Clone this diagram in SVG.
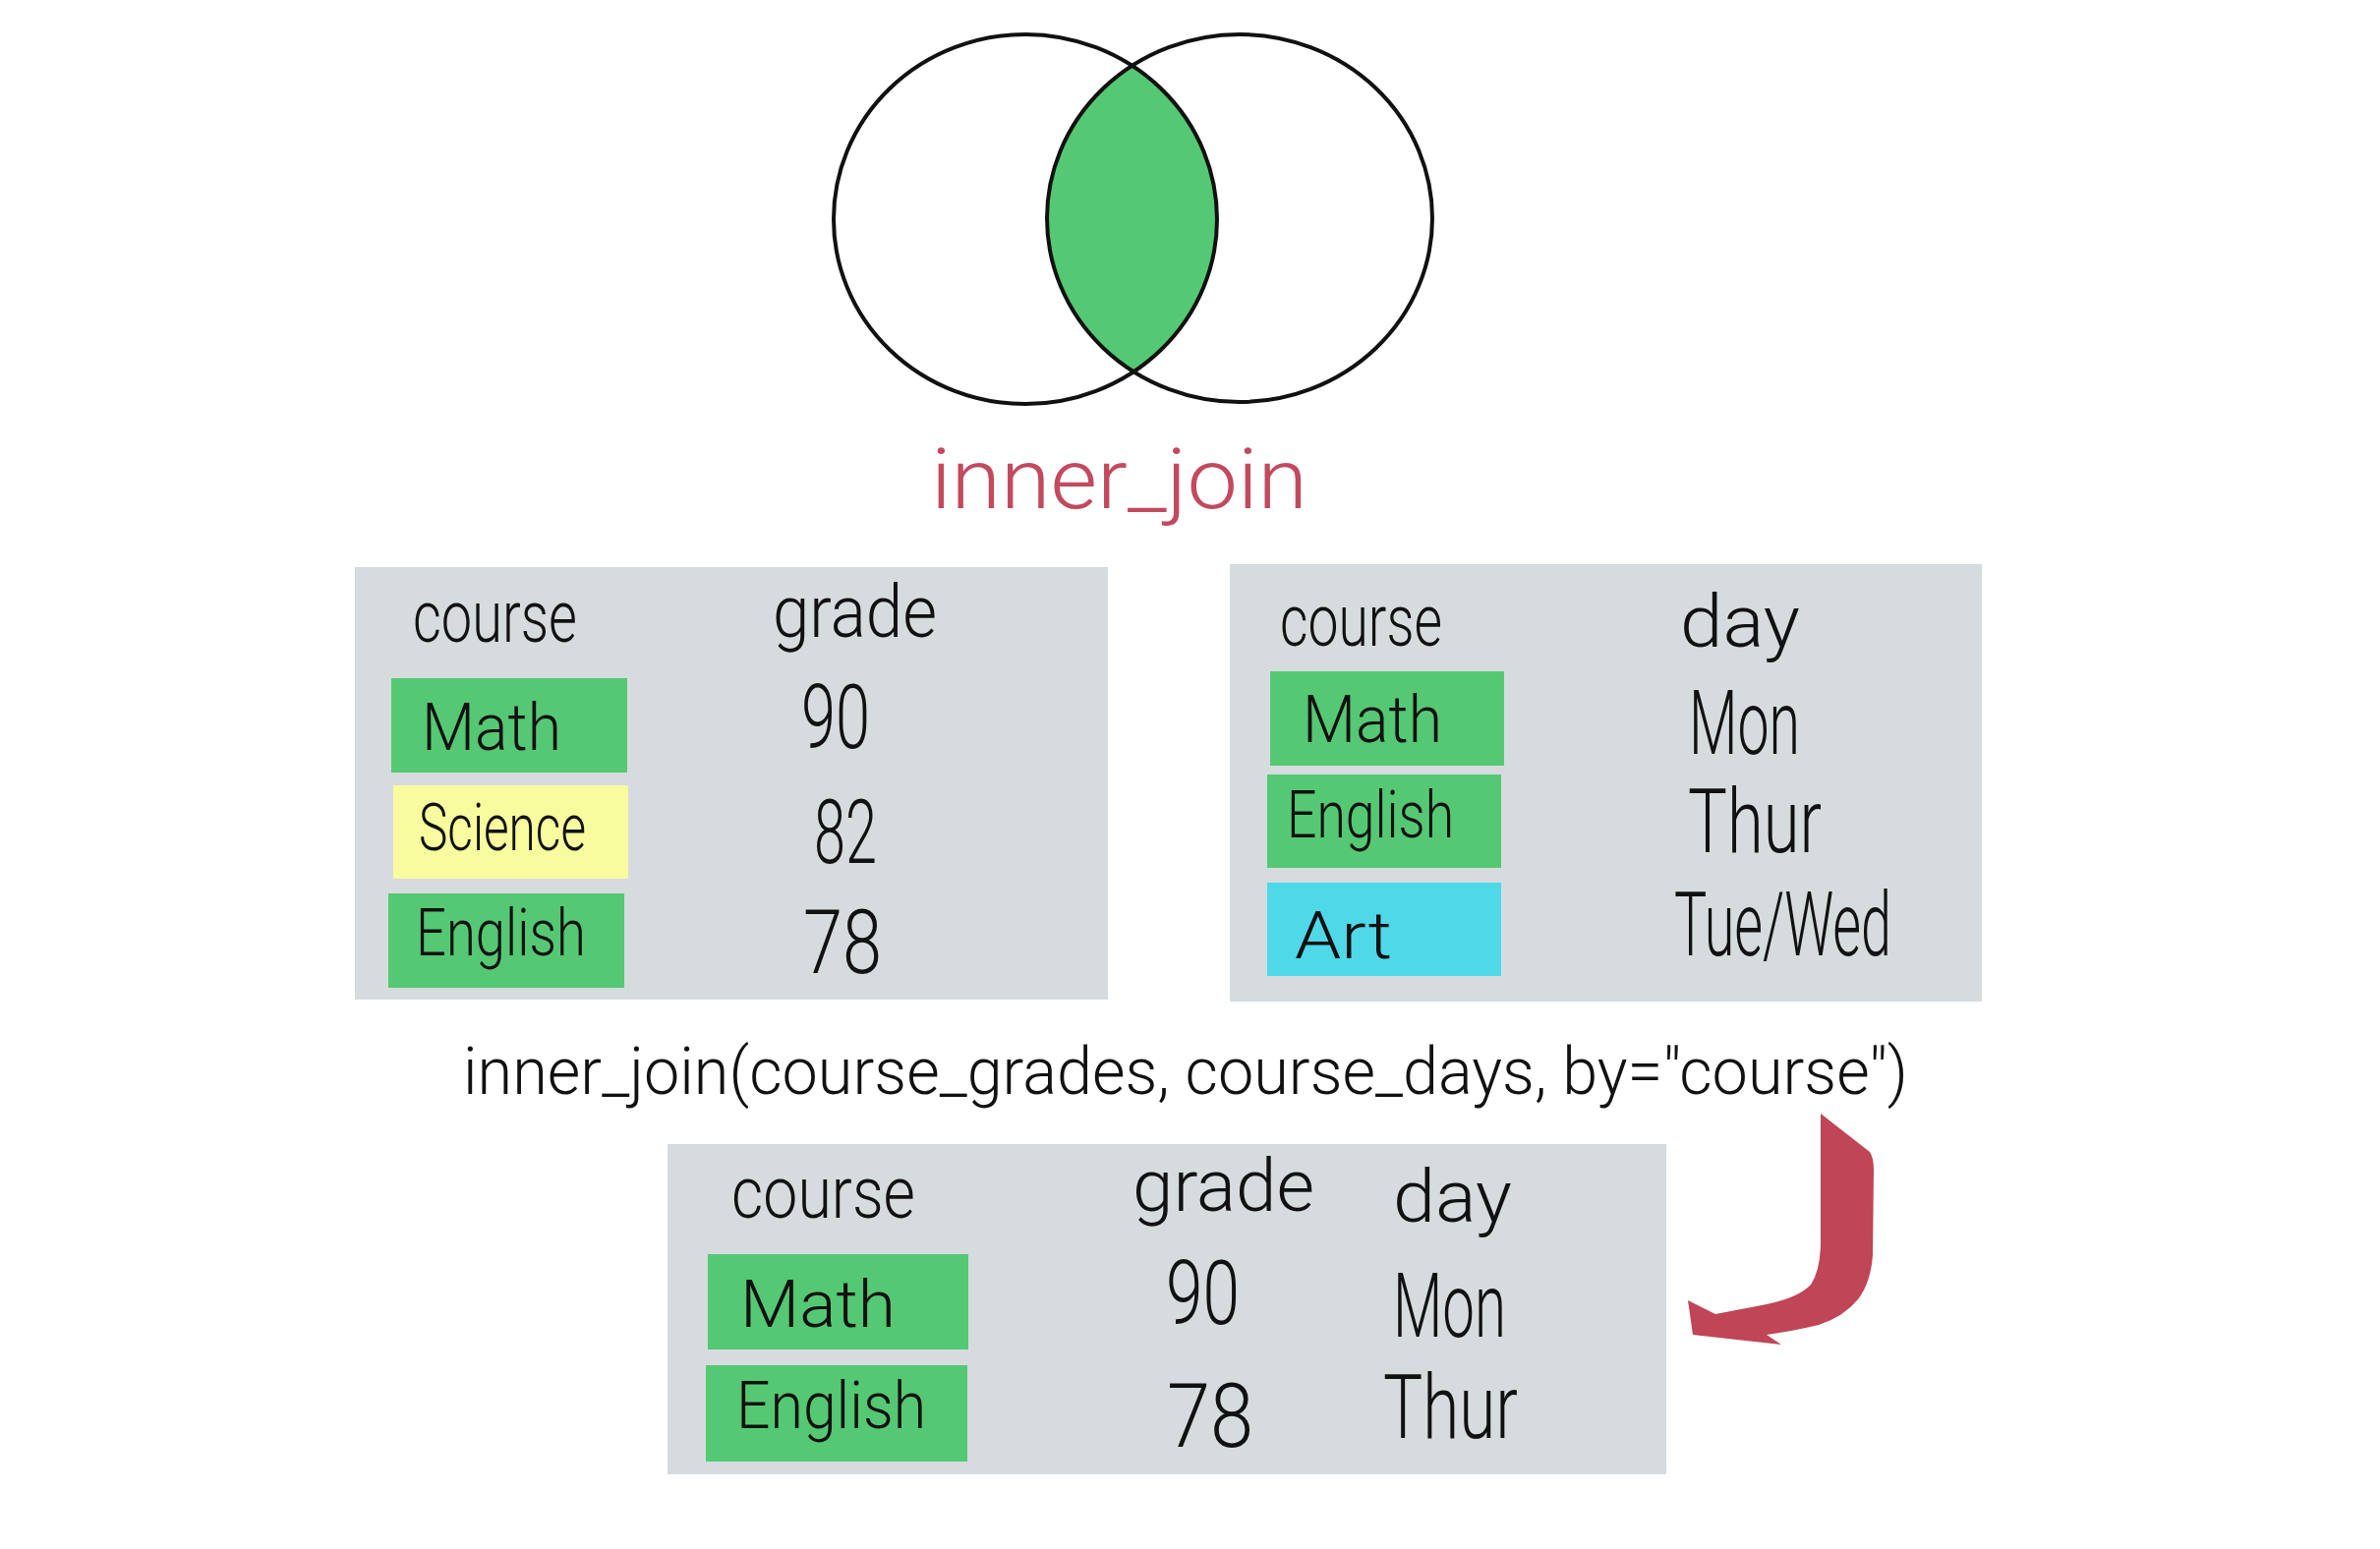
<svg xmlns="http://www.w3.org/2000/svg" width="2421" height="1576" viewBox="0 0 2421 1576">
<defs>
<style>
.t{font-family:'Roboto','Open Sans','Liberation Sans',sans-serif;font-weight:300;fill:#111;}
.hd{font-size:74px;}
.cw{font-size:66px;}
.dg{font-size:90px;}
.dy{font-size:90px;}
.tbl{fill:#d6dbde;}
.g{fill:#55c873;}
.y{fill:#f8fb9e;}
.c{fill:#4fd8e8;}
.venn{fill:none;stroke:#111;stroke-width:4;}
</style>
<clipPath id="leftClip"><ellipse cx="1043" cy="223" rx="195" ry="188"/></clipPath>
</defs>
<rect width="2421" height="1576" fill="#fff"/>
<g id="venn">
<ellipse cx="1261" cy="222" rx="196" ry="187" fill="#55c873" clip-path="url(#leftClip)"/>
<ellipse class="venn" cx="1043" cy="223" rx="195" ry="188"/>
<ellipse class="venn" cx="1261" cy="222" rx="196" ry="187"/>
</g>
<g id="title">
<text x="947" y="517" font-family="'Roboto','Open Sans','Liberation Sans',sans-serif" font-weight="300" font-size="86" fill="#c24a5e" textLength="383" lengthAdjust="spacingAndGlyphs">inner_join</text>
</g>
<g id="course_grades">
<rect class="tbl" x="361" y="577" width="766" height="440"/>
<text class="t hd" x="420" y="653" textLength="167" lengthAdjust="spacingAndGlyphs">course</text>
<text class="t hd" x="786" y="648" textLength="167" lengthAdjust="spacingAndGlyphs">grade</text>
<rect class="g" x="398" y="690" width="240" height="96"/>
<text class="t cw" x="429" y="763" textLength="142" lengthAdjust="spacingAndGlyphs">Math</text>
<text class="t dg" x="815" y="761" textLength="70" lengthAdjust="spacingAndGlyphs">90</text>
<rect class="y" x="400" y="799" width="239" height="95"/>
<text class="t cw" x="426" y="865" textLength="170" lengthAdjust="spacingAndGlyphs">Science</text>
<text class="t dg" x="828" y="878" textLength="64" lengthAdjust="spacingAndGlyphs">82</text>
<rect class="g" x="395" y="909" width="240" height="96"/>
<text class="t cw" x="423" y="972" textLength="173" lengthAdjust="spacingAndGlyphs">English</text>
<text class="t dg" x="817" y="990" textLength="80" lengthAdjust="spacingAndGlyphs">78</text>
</g>
<g id="course_days">
<rect class="tbl" x="1251" y="574" width="765" height="445"/>
<text class="t hd" x="1302" y="657" textLength="165" lengthAdjust="spacingAndGlyphs">course</text>
<text class="t hd" x="1709" y="658" textLength="122" lengthAdjust="spacingAndGlyphs">day</text>
<rect class="g" x="1292" y="683" width="238" height="96"/>
<text class="t cw" x="1325" y="755" textLength="142" lengthAdjust="spacingAndGlyphs">Math</text>
<text class="t dy" x="1718" y="767" textLength="113" lengthAdjust="spacingAndGlyphs">Mon</text>
<rect class="g" x="1289" y="788" width="238" height="95"/>
<text class="t cw" x="1309" y="852" textLength="170" lengthAdjust="spacingAndGlyphs">English</text>
<text class="t dy" x="1717" y="867" font-size="97" textLength="136" lengthAdjust="spacingAndGlyphs">Thur</text>
<rect class="c" x="1289" y="898" width="238" height="95"/>
<text class="t cw" x="1317" y="975" font-size="72" textLength="99" lengthAdjust="spacingAndGlyphs">Art</text>
<text class="t dy" x="1703" y="972" textLength="221" lengthAdjust="spacingAndGlyphs">Tue/Wed</text>
</g>
<g id="code">
<text class="t" x="471" y="1113" font-size="66" textLength="1470" lengthAdjust="spacingAndGlyphs">inner_join(course_grades, course_days, by="course")</text>
</g>
<g id="result">
<rect class="tbl" x="679" y="1164" width="1016" height="336"/>
<text class="t hd" x="744" y="1239" font-size="78" textLength="187" lengthAdjust="spacingAndGlyphs">course</text>
<text class="t hd" x="1152" y="1232" font-size="78" textLength="185" lengthAdjust="spacingAndGlyphs">grade</text>
<text class="t hd" x="1417" y="1243" font-size="78" textLength="121" lengthAdjust="spacingAndGlyphs">day</text>
<rect class="g" x="720" y="1276" width="265" height="97"/>
<text class="t cw" x="753" y="1350" font-size="72" textLength="158" lengthAdjust="spacingAndGlyphs">Math</text>
<text class="t dg" x="1186" y="1347" textLength="75" lengthAdjust="spacingAndGlyphs">90</text>
<text class="t dy" x="1417" y="1360" textLength="115" lengthAdjust="spacingAndGlyphs">Mon</text>
<rect class="g" x="718" y="1389" width="266" height="98"/>
<text class="t cw" x="749" y="1453" font-size="70" textLength="193" lengthAdjust="spacingAndGlyphs">English</text>
<text class="t dg" x="1187" y="1472" textLength="88" lengthAdjust="spacingAndGlyphs">78</text>
<text class="t dy" x="1407" y="1463" font-size="97" textLength="137" lengthAdjust="spacingAndGlyphs">Thur</text>
</g>
<g id="connectors">
<path d="M1852,1133 L1902,1172 Q1906,1178 1906,1190 L1905,1277 Q1903,1305 1890,1322 Q1875,1340 1850,1348 Q1825,1354 1797,1358 L1812,1368 L1722,1358 L1717,1323 L1745,1337 L1797,1327 Q1830,1320 1842,1307 Q1852,1292 1852,1263 Z" fill="#bf4557"/>
</g>
</svg>
